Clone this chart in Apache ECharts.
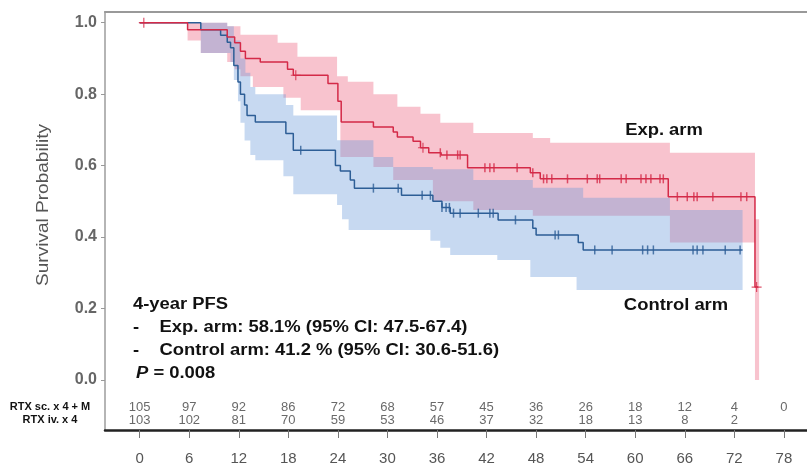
<!DOCTYPE html>
<html><head><meta charset="utf-8">
<script src="https://cdn.jsdelivr.net/npm/echarts@6/dist/echarts.min.js"></script>
<style>html,body{margin:0;padding:0;background:#fff}#c{width:807px;height:471px}</style>
</head><body><div id="c"></div>
<script>
// ---- tick labels / categories ----
const tickMonths = [0,6,12,18,24,30,36,42,48,54,60,66,72,78];
const yTicks = [0,0.2,0.4,0.6,0.8,1.0];
const armNames = ['RTX sc. x 4 + M','RTX iv. x 4'];

// ---- numbers at risk ----
const expAtRisk = [105,97,92,86,72,68,57,45,36,26,18,12,4,0];
const ctlAtRisk = [103,102,81,70,59,53,46,37,32,18,13,8,2];

// ---- Kaplan-Meier curves (months, survival) ----
const expT = [0,5.8,10.6,11.5,12.2,12.8,14.6,17.9,18.6,22.8,24.0,24.4,28.3,30.7,31.2,33.1,34.0,35.0,36.5,39.7,47.3,48.5,64.0,74.5,74.9];
const expS = [1.0,0.98,0.96,0.944,0.92,0.90,0.89,0.87,0.853,0.83,0.78,0.722,0.708,0.694,0.68,0.668,0.65,0.636,0.63,0.594,0.58,0.563,0.513,0.26,0.26];
const ctlT = [0,7.4,9.8,10.6,11.0,11.4,11.9,12.2,12.7,13.0,14.0,17.7,18.6,23.7,24.3,25.5,26.0,31.7,35.5,36.6,37.6,43.4,47.6,48.0,53.1,53.7,73.0];
const ctlS = [1.0,0.98,0.965,0.945,0.93,0.88,0.834,0.80,0.77,0.74,0.722,0.69,0.643,0.60,0.585,0.56,0.537,0.517,0.50,0.483,0.467,0.448,0.425,0.406,0.385,0.364,0.364];

// ---- censoring times ----
const expCensorT = [36.4,37.2,38.5,38.8,41.8,42.4,42.9,45.7,47.6,48.9,49.3,49.9,51.8,54.2,55.4,55.7,58.3,58.9,60.7,61.3,61.9,63.0,63.4,65.1,66.3,67.1,67.5,69.4,72.8,73.5];
const expPlusT = [0.5,18.9,34.3,74.7];
const ctlCensorT = [19.5,28.3,31.3,34.2,35.2,36.6,37.1,37.5,38.0,38.8,41.0,42.4,42.8,45.5,50.3,50.7,55.1,57.2,60.9,61.5,62.2,67.0,67.5,68.2,70.9,72.7];

// ---- 95% CI bands (step start times; last entry = end) ----
const expCiT  = [5.8,7.4,10.6,11.5,12.2,13.7,16.7,17.4,19.1,19.5,23.9,24.3,25.2,28.3,30.7,31.2,34.0,35.5,36.4,40.4,47.6,49.7,64.2,74.5,75.0];
const expCiHi = [1.0,1.0,0.99,0.99,0.966,0.966,0.944,0.944,0.905,0.905,0.85,0.85,0.835,0.80,0.80,0.765,0.745,0.745,0.72,0.691,0.677,0.664,0.636,0.45,0.45];
const expCiLo = [0.95,0.915,0.89,0.87,0.85,0.82,0.82,0.79,0.79,0.755,0.755,0.624,0.624,0.596,0.56,0.56,0.56,0.50,0.50,0.476,0.46,0.46,0.385,0.0,0.0];
const ctlCiT  = [7.4,10.6,11.0,11.4,11.9,12.2,12.7,12.8,13.4,14.0,17.4,17.7,18.6,23.9,24.5,25.3,28.3,30.7,35.2,35.5,36.4,37.6,40.4,43.3,47.3,47.6,52.9,53.7,64.2,73.0];
const ctlCiHi = [1.0,0.99,0.99,0.95,0.95,0.90,0.90,0.86,0.82,0.80,0.80,0.77,0.74,0.671,0.671,0.671,0.624,0.596,0.596,0.59,0.59,0.59,0.56,0.56,0.56,0.538,0.538,0.51,0.476,0.476];
const ctlCiLo = [0.915,0.915,0.89,0.84,0.78,0.72,0.67,0.67,0.63,0.615,0.57,0.57,0.52,0.49,0.45,0.42,0.42,0.42,0.39,0.39,0.37,0.35,0.35,0.336,0.288,0.288,0.252,0.252,0.252,0.252];

const RED = '#d42a48', BLUE = '#2d5e96';
const PINK = 'rgba(236,90,120,0.36)', LBLUE = 'rgba(100,150,215,0.36)';
const ROW_LEVEL = [-0.076, -0.112];

function stepAt(T,S,t){let v=S[0];for(let i=0;i<T.length;i++){if(T[i]<=t) v=S[i]; else break;}return v;}
function curve(T,S){return T.map((t,i)=>[t,S[i]]);}
function band(T,LO,HI,color){
  return {type:'custom', z:1, silent:true, clip:true, data:[[T[0],LO[0]]],
    renderItem:function(params,api){
      const pts=[];
      for(let i=0;i<T.length-1;i++){pts.push(api.coord([T[i],HI[i]]));pts.push(api.coord([T[i+1],HI[i]]));}
      for(let i=T.length-2;i>=0;i--){pts.push(api.coord([T[i+1],LO[i]]));pts.push(api.coord([T[i],LO[i]]));}
      return {type:'polygon', shape:{points:pts}, style:{fill:color}};
    }};
}
const plusPath = 'path://M0,4.4h10v1.2h-10zM4.4,0h1.2v10h-1.2z';

const chart = echarts.init(document.getElementById('c'));
const FONT = '"Liberation Sans", Arial, sans-serif';
const SX = 1.15;
chart.setOption({
  animation:false,
  grid:{left:105,right:0,top:12,bottom:41},
  xAxis:[
    {type:'value',position:'bottom',min:-4.2,max:80.8,
     axisLine:{show:true,onZero:false,lineStyle:{color:'#222',width:2.5}},
     axisTick:{show:true,customValues:tickMonths,length:8,lineStyle:{color:'#777'}},
     axisLabel:{show:true,customValues:tickMonths,margin:21,color:'#555',fontSize:15,fontFamily:FONT},
     splitLine:{show:false}},
    {type:'value',position:'top',min:-4.2,max:80.8,
     axisLine:{show:true,onZero:false,lineStyle:{color:'#999',width:2}},
     axisTick:{show:false},axisLabel:{show:false},splitLine:{show:false}}
  ],
  yAxis:[
    {type:'value',min:-0.14,max:1.03,position:'left',
     axisLine:{show:true,onZero:false,lineStyle:{color:'#b5b5b5',width:2}},
     axisTick:{show:true,customValues:yTicks,length:4,lineStyle:{color:'#999'}},
     axisLabel:{show:true,customValues:yTicks,margin:8,color:'#666',fontSize:16,fontWeight:'bold',fontFamily:FONT,
       formatter:v=>v.toFixed(1)},
     splitLine:{show:false}},
    {type:'value',min:-0.14,max:1.03,position:'left',
     axisLine:{show:false},axisTick:{show:false},splitLine:{show:false},
     axisLabel:{show:true,customValues:ROW_LEVEL,margin:55,align:'center',color:'#111',fontSize:11,fontWeight:'bold',fontFamily:FONT,
       formatter:v=>armNames[ROW_LEVEL.indexOf(v)]}}
  ],
  graphic:[
    {type:'text',x:43,y:205,rotation:Math.PI/2,scaleX:1.12,style:{text:'Survival Probability',fill:'#555',font:'17px '+FONT,textAlign:'center',textVerticalAlign:'middle'}},
    {type:'text',x:133,y:305,scaleX:SX,style:{text:'4-year PFS',fill:'#111',font:'bold 16px '+FONT,textVerticalAlign:'middle'}},
    {type:'text',x:133,y:328,scaleX:SX,style:{text:'-    Exp. arm: 58.1% (95% CI: 47.5-67.4)',fill:'#111',font:'bold 16px '+FONT,textVerticalAlign:'middle'}},
    {type:'text',x:133,y:351,scaleX:SX,style:{text:'-    Control arm: 41.2 % (95% CI: 30.6-51.6)',fill:'#111',font:'bold 16px '+FONT,textVerticalAlign:'middle'}},
    {type:'text',x:136,y:374,scaleX:SX,style:{text:'{i|P} = 0.008',fill:'#111',font:'bold 16px '+FONT,textVerticalAlign:'middle',
      rich:{i:{fontStyle:'italic',fontWeight:'bold',fontSize:16,fontFamily:FONT,fill:'#111'}}}},
    {type:'text',x:664,y:131,scaleX:SX,style:{text:'Exp. arm',fill:'#111',font:'bold 16px '+FONT,textAlign:'center',textVerticalAlign:'middle'}},
    {type:'text',x:676,y:306,scaleX:SX,style:{text:'Control arm',fill:'#111',font:'bold 16px '+FONT,textAlign:'center',textVerticalAlign:'middle'}}
  ],
  series:[
    band(expCiT,expCiLo,expCiHi,PINK),
    band(ctlCiT,ctlCiLo,ctlCiHi,LBLUE),
    {type:'line',step:'end',data:curve(ctlT,ctlS),showSymbol:false,z:3,lineStyle:{color:BLUE,width:1.5}},
    {type:'line',step:'end',data:curve(expT,expS),showSymbol:false,z:4,lineStyle:{color:RED,width:1.5}},
    {type:'scatter',data:ctlCensorT.map(t=>[t,stepAt(ctlT,ctlS,t)]),symbol:'rect',symbolSize:[1.5,9],z:5,itemStyle:{color:BLUE}},
    {type:'scatter',data:expCensorT.map(t=>[t,stepAt(expT,expS,t)]),symbol:'rect',symbolSize:[1.5,9],z:6,itemStyle:{color:RED}},
    {type:'scatter',data:expPlusT.map(t=>[t,stepAt(expT,expS,t)]),symbol:plusPath,symbolSize:10,z:6,itemStyle:{color:RED}},
    {type:'scatter',symbolSize:0,z:7,silent:true,
     data:expAtRisk.map((n,i)=>[tickMonths[i],ROW_LEVEL[0],n]),
     label:{show:true,position:'inside',formatter:p=>String(p.data[2]),color:'#444',fontSize:13,fontFamily:FONT}},
    {type:'scatter',symbolSize:0,z:7,silent:true,
     data:ctlAtRisk.map((n,i)=>[tickMonths[i],ROW_LEVEL[1],n]),
     label:{show:true,position:'inside',formatter:p=>String(p.data[2]),color:'#444',fontSize:13,fontFamily:FONT}}
  ]
});
</script></body></html>
